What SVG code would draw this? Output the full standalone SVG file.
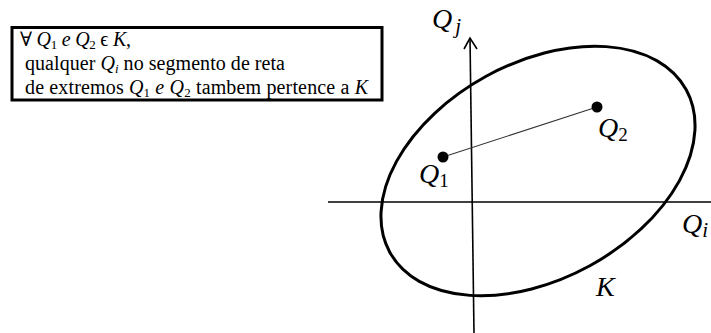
<svg xmlns="http://www.w3.org/2000/svg" width="711" height="333" viewBox="0 0 711 333">
<style>
.txt{font-family:"Liberation Serif","DejaVu Serif",serif;font-size:20px;fill:#000}
.m{font-style:italic}
.lab{font-family:"Liberation Serif","DejaVu Serif",serif;font-style:italic;font-size:28px;fill:#000}
.sub{font-style:normal;font-size:19px}
.axis{stroke:#000;stroke-width:1.6;fill:none}
</style>
<rect width="711" height="333" fill="#fff"/>
<g id="note">
<rect x="12" y="27.5" width="370" height="72.5" fill="#fff" stroke="#000" stroke-width="3"/>
<text class="txt" x="20" y="46" textLength="111" lengthAdjust="spacing">∀ <tspan class="m">Q</tspan><tspan font-size="13" dy="3">1</tspan><tspan dy="-3"> </tspan><tspan class="m">e Q</tspan><tspan font-size="13" dy="3">2</tspan><tspan dy="-3"> ϵ </tspan><tspan class="m">K</tspan>,</text>
<text class="txt" x="25" y="70" textLength="260" lengthAdjust="spacing">qualquer <tspan class="m">Q</tspan><tspan class="m" font-size="13" dy="3">i</tspan><tspan dy="-3"> no segmento de reta</tspan></text>
<text class="txt" x="25" y="94" textLength="343" lengthAdjust="spacing">de extremos  <tspan class="m">Q</tspan><tspan font-size="13" dy="3">1</tspan><tspan dy="-3"> </tspan><tspan class="m">e Q</tspan><tspan font-size="13" dy="3">2</tspan><tspan dy="-3"> tambem pertence a </tspan><tspan class="m">K</tspan></text>
</g>
<g id="axes">
<line class="axis" x1="328" y1="202" x2="711" y2="202"/>
<line class="axis" x1="470" y1="38" x2="474" y2="333"/>
<polyline class="axis" points="464,49 470,38 477,49"/>
</g>
<g id="K">
<ellipse cx="538" cy="171" rx="169" ry="108" transform="rotate(-28.7 538 171)" fill="none" stroke="#000" stroke-width="3"/>
</g>
<g id="connectors">
<line x1="443" y1="157" x2="597" y2="107" stroke="#333" stroke-width="1.1"/>
</g>
<g id="Q1">
<circle cx="443" cy="157" r="5.5" fill="#000"/>
<text class="lab" x="419" y="183">Q<tspan class="sub" dy="4">1</tspan></text>
</g>
<g id="Q2">
<circle cx="597" cy="107" r="5.5" fill="#000"/>
<text class="lab" x="598" y="137">Q<tspan class="sub" dy="4">2</tspan></text>
</g>
<g id="labels">
<text class="lab" x="432" y="28">Q<tspan font-size="21" dx="3" dy="5">j</tspan></text>
<text class="lab" x="682" y="233">Q<tspan font-size="21" dy="4">i</tspan></text>
<text class="lab" x="596" y="296">K</text>
</g>
</svg>
